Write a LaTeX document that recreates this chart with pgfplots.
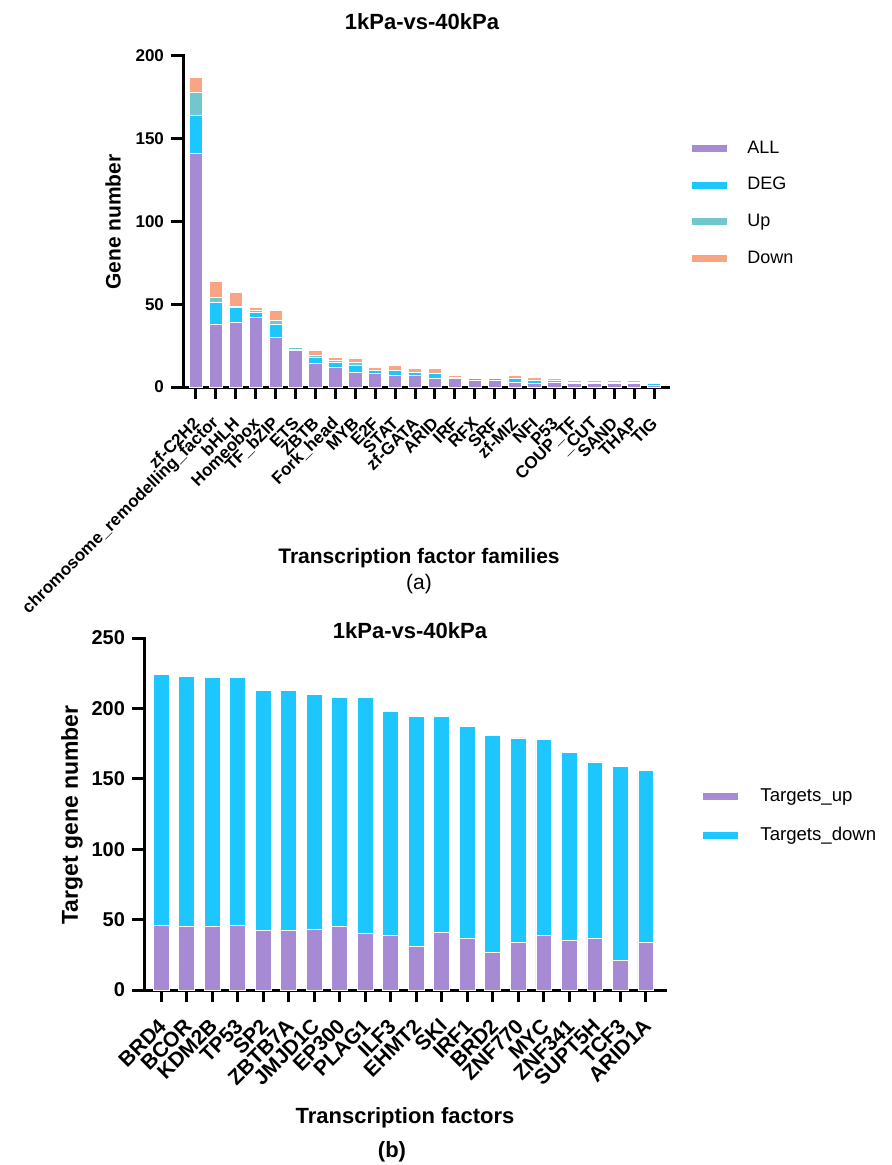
\documentclass[border=0pt]{standalone}
\usepackage{fontspec}
\setmainfont{Liberation Sans}
\usepackage{pgfplots}
\usepackage{pgfplotstable}
\pgfplotsset{compat=1.18}
\definecolor{cAll}{HTML}{A68BD4}
\definecolor{cDeg}{HTML}{1EC6FE}
\definecolor{cUp}{HTML}{72C7CF}
\definecolor{cDown}{HTML}{F9A584}

\pgfplotstableread{
x ALL DEG Up Down
0 141 23 14 9
1 38 13 3 10
2 39 9 1 8
3 42 3 1 2
4 30 8 2 6
5 22 1 1 0
6 14 4 1 3
7 12 3 1 2
8 9 4 2 2
9 8 2 0 2
10 7 3 0 3
11 7 2 0 2
12 5 3 0 3
13 5 1 0 1
14 4 1 1 0
15 4 1 0 1
16 3 2 0 2
17 2 2 0 2
18 3 1 0 1
19 2 1 0 1
20 2 1 0 1
21 2 1 0 1
22 2 1 0 1
23 1 1 1 0
}\famdata

\pgfplotstableread{
x up down
0 46 178
1 45 178
2 45 177
3 46 176
4 42 171
5 42 171
6 43 167
7 45 163
8 40 168
9 39 159
10 31 163
11 41 153
12 37 150
13 27 154
14 34 145
15 39 139
16 35 134
17 37 125
18 21 138
19 34 122
}\tfdata

\pgfplotsset{
  myaxis/.style={
    scale only axis,
    ybar stacked,
    axis x line=bottom, axis y line=left,
    axis line style={line width=1.5pt,-,line cap=rect},
    tick style={line width=1.5pt,black},
    tick align=outside, major tick length=6pt,
    /pgf/number format/assume math mode=true,
    legend cell align=left,
    every axis plot/.append style={legend image code/.code={\fill[##1,draw=none] (0pt,-1.75pt) rectangle (17.5pt,1.75pt);}},
  }
}

\begin{document}
\begin{tikzpicture}
\useasboundingbox (0,0) rectangle (446pt,-582.5pt);
\begin{axis}[myaxis,
  anchor=south west, at={(91.5pt,-193.5pt)},
  width=242.5pt, height=165.5pt,
  bar width=0.67,
  xmin=-0.65, xmax=23.7, ymin=0, ymax=200,
  xtick={0,...,23},
  xticklabels={zf-C2H2,chromosome\_remodelling\_factor,bHLH,Homeobox,TF\_bZIP,ETS,ZBTB,Fork\_head,MYB,E2F,STAT,zf-GATA,ARID,IRF,RFX,SRF,zf-MIZ,NFI,P53,COUP\_TF,\_CUT,SAND,THAP,TIG},
  xticklabel shift=10pt,
  xticklabel style={xshift=1pt, rotate=45, anchor=east, font=\bfseries\fontsize{8.5}{9}\selectfont, inner sep=1pt},
  ytick={0,50,100,150,200},
  yticklabel style={font=\bfseries\fontsize{8.5}{9}\selectfont},
  legend style={draw=none, fill=none, anchor=north west, at={(axis description cs:1.0495,0.745)},
    font=\fontsize{9}{10.8}\selectfont, row sep=10.6pt, inner sep=0pt, nodes={inner sep=0pt},
    /tikz/every odd column/.append style={column sep=10pt}},
]
\addplot[fill=cAll, draw=white, line width=0.4pt] table[x=x,y=ALL]{\famdata};
\addplot[fill=cDeg, draw=white, line width=0.4pt] table[x=x,y=DEG]{\famdata};
\addplot[fill=cUp, draw=white, line width=0.4pt] table[x=x,y=Up]{\famdata};
\addplot[fill=cDown, draw=white, line width=0.4pt] table[x=x,y=Down]{\famdata};
\legend{ALL,DEG,Up,Down}
\end{axis}

\begin{axis}[myaxis,
  anchor=south west, at={(72pt,-495pt)},
  width=260.5pt, height=176pt,
  bar width=0.62,
  xmin=-0.67, xmax=19.75, ymin=0, ymax=250,
  xtick={0,...,19},
  xticklabels={BRD4,BCOR,KDM2B,TP53,SP2,ZBTB7A,JMJD1C,EP300,PLAG1,ILF3,EHMT2,SKI,IRF1,BRD2,ZNF770,MYC,ZNF341,SUPT5H,TCF3,ARID1A},
  xticklabel shift=9.5pt,
  xticklabel style={xshift=1.5pt, rotate=45, anchor=east, font=\bfseries\fontsize{10.5}{12}\selectfont, inner sep=1pt},
  ytick={0,50,100,150,200,250},
  yticklabel style={font=\bfseries\fontsize{10}{11}\selectfont},
  legend style={draw=none, fill=none, anchor=north west, at={(axis description cs:1.073,0.572)},
    font=\fontsize{9.3}{11}\selectfont, row sep=11pt, inner sep=0pt, nodes={inner sep=0pt},
    /tikz/every odd column/.append style={column sep=11pt}},
]
\addplot[fill=cAll, draw=white, line width=0.4pt] table[x=x,y=up]{\tfdata};
\addplot[fill=cDeg, draw=white, line width=0.4pt] table[x=x,y=down]{\tfdata};
\legend{Targets\_up,Targets\_down}
\end{axis}

\node[font=\bfseries\fontsize{11}{13}\selectfont] at (211pt,-11pt) {1kPa-vs-40kPa};
\node[font=\bfseries\fontsize{10.5}{12}\selectfont, rotate=90] at (56.5pt,-111pt) {Gene number};
\node[font=\bfseries\fontsize{10.5}{12}\selectfont] at (209.5pt,-279pt) {Transcription factor families};
\node[font=\fontsize{10.5}{12}\selectfont] at (209.5pt,-292pt) {(a)};

\node[font=\bfseries\fontsize{11}{13}\selectfont] at (205pt,-315.5pt) {1kPa-vs-40kPa};
\node[font=\bfseries\fontsize{11.5}{13}\selectfont, rotate=90] at (36pt,-407.5pt) {Target gene number};
\node[font=\bfseries\fontsize{11}{13}\selectfont] at (202.5pt,-559pt) {Transcription factors};
\node[font=\bfseries\fontsize{11}{13}\selectfont] at (196pt,-576pt) {(b)};
\end{tikzpicture}
\end{document}
